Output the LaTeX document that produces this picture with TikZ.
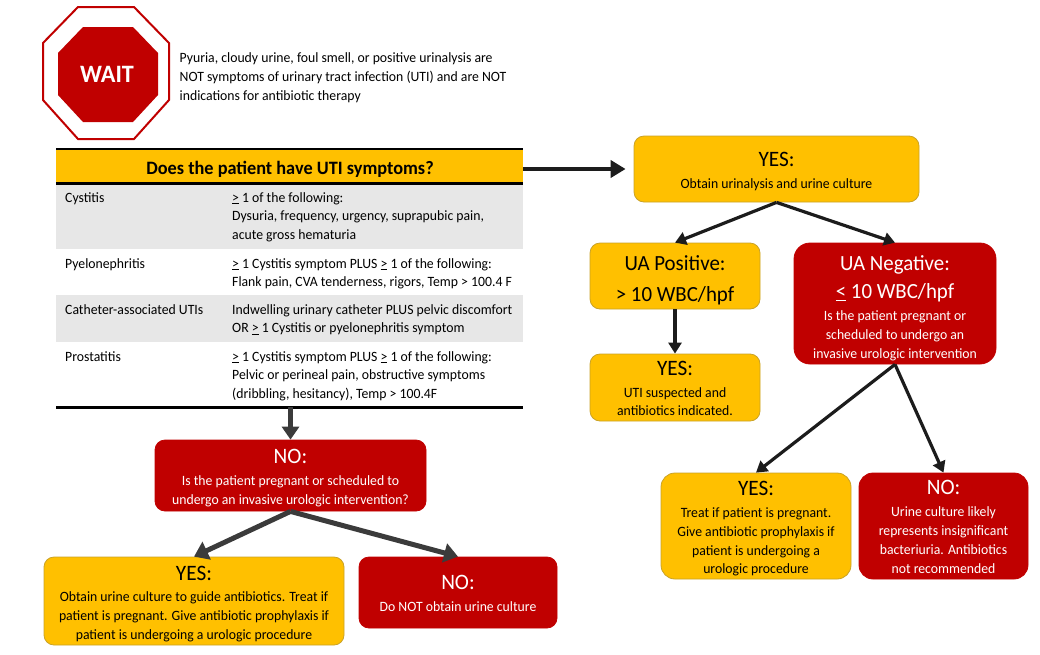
\documentclass[tikz,border=0pt]{standalone}
\usepackage{fontspec}
\setmainfont[FakeStretch=0.967]{Carlito}
\usepackage{xcolor}
\usetikzlibrary{arrows.meta}
\definecolor{signred}{HTML}{C00000}
\definecolor{boxgold}{HTML}{FFC000}
\definecolor{goldedge}{HTML}{C9A227}
\definecolor{rowgray}{HTML}{E7E7E7}
\definecolor{arrowgray}{HTML}{3B3B3B}
\definecolor{arrowdark}{HTML}{1C1C1C}
\newcommand{\Geq}{\underline{>}}
\newcommand{\Leq}{\underline{<}}
\newcommand{\boxtitle}[1]{{\fontsize{22}{24}\selectfont\rule{0pt}{20pt}#1}}
\newcommand{\uatitle}[1]{{\fontsize{21.6}{24}\selectfont\rule{0pt}{24pt}#1}}
\newcommand{\lastdepth}{\rule[-4pt]{0pt}{0pt}}
\tikzset{
  body/.style={font=\fontsize{14.2}{18.8}\selectfont, align=left, inner sep=0pt, text=black},
  flowbox/.style={rounded corners=10pt, align=center, inner sep=0pt, font=\fontsize{14.2}{18.8}\selectfont},
  goldbox/.style={flowbox, draw=goldedge, line width=0.8pt, fill=boxgold, text=black},
  redbox/.style={flowbox, draw=signred, line width=0.8pt, fill=signred, text=white},
  tablerow/.style={inner sep=0pt, minimum width=467pt, anchor=north west},
  tableline/.style={line width=2.6pt, black},
  darkarrow/.style={arrowdark, line width=3.2pt, -{Triangle[length=11pt,width=13pt]}},
  grayarrow/.style={arrowgray, line width=5pt, -{Triangle[length=14pt,width=19pt]}}
}
\begin{document}
\begin{tikzpicture}[x=1pt, y=-1pt]
  \useasboundingbox (0, 0) rectangle (1040, 654);
  % stop sign
  \draw [signred, line width=2pt, fill=white] (78, 7) -- (134, 7) -- (169, 43) -- (169, 100) -- (134, 139) -- (78, 139) -- (43, 100) -- (43, 43) -- cycle;
  \fill [signred] (83, 27) -- (133, 27) -- (158, 53) -- (158, 95) -- (133, 122) -- (83, 122) -- (58, 95) -- (58, 53) -- cycle;
  \node [text=white, font=\bfseries\fontsize{25}{28}\selectfont] (wait) at (107, 74) {WAIT};
  \node [body, anchor=north west] (warning) at (179.5, 52.5) {Pyuria, cloudy urine, foul smell, or positive urinalysis are\\NOT symptoms of urinary tract infection (UTI) and are NOT\\indications for antibiotic therapy};
  % table
  \node [tablerow, fill=boxgold, minimum height=34pt] (head) at (56, 149) {};
  \node [font=\bfseries\fontsize{18.9}{22}\selectfont] (question) at (290, 169) {Does the patient have UTI symptoms?};
  \node [tablerow, fill=rowgray, minimum height=66pt] (rowA) at (56, 183) {};
  \node [tablerow, minimum height=46pt] (rowB) at (56, 249) {};
  \node [tablerow, fill=rowgray, minimum height=47pt] (rowC) at (56, 295) {};
  \node [tablerow, minimum height=65pt] (rowD) at (56, 342) {};
  \draw [tableline] (head.north west) -- (head.north east);
  \draw [tableline] (head.south west) -- (head.south east);
  \draw [tableline] (rowD.south west) -- (rowD.south east);
  \node [body, anchor=north west] (cystitis) at (65, 192) {Cystitis};
  \node [body, anchor=north west] (cystitisText) at (232, 192) {\Geq{} 1 of the following:\\Dysuria, frequency, urgency, suprapubic pain,\\acute gross hematuria};
  \node [body, anchor=north west] (pyelo) at (65, 258) {Pyelonephritis};
  \node [body, anchor=north west] (pyeloText) at (232, 258) {\Geq{} 1 Cystitis symptom PLUS \Geq{} 1 of the following:\\Flank pain, CVA tenderness, rigors, Temp > 100.4 F};
  \node [body, anchor=north west] (cath) at (65, 304) {Catheter-associated UTIs};
  \node [body, anchor=north west] (cathText) at (232, 304) {Indwelling urinary catheter PLUS pelvic discomfort\\OR \Geq{} 1 Cystitis or pyelonephritis symptom};
  \node [body, anchor=north west] (prost) at (65, 351) {Prostatitis};
  \node [body, anchor=north west] (prostText) at (232, 351) {\Geq{} 1 Cystitis symptom PLUS \Geq{} 1 of the following:\\Pelvic or perineal pain, obstructive symptoms\\(dribbling, hesitancy), Temp > 100.4F};
  % left branch
  \node [redbox, minimum width=271pt, minimum height=71pt] (noMid) at (290.5, 475.5) {\boxtitle{NO:}\\[3pt]Is the patient pregnant or scheduled to\\undergo an invasive urologic intervention?};
  \node [goldbox, minimum width=300pt, minimum height=88pt] (yesLeft) at (194, 601) {\boxtitle{YES:}\\[3pt]Obtain urine culture to guide antibiotics. Treat if\\patient is pregnant. Give antibiotic prophylaxis if\\patient is undergoing a urologic procedure};
  \node [redbox, minimum width=198pt, minimum height=71pt] (noLeft) at (458, 592.5) {\boxtitle{NO:}\\[3pt]Do NOT obtain urine culture\lastdepth};
  % right branch
  \node [goldbox, minimum width=285pt, minimum height=66pt] (yesTop) at (776.5, 169) {\boxtitle{YES:}\\[3pt]Obtain urinalysis and urine culture};
  \node [goldbox, minimum width=170pt, minimum height=66pt] (uaPos) at (675, 276) {\uatitle{UA Positive:}\\[6pt]\uatitle{> 10 WBC/hpf}};
  \node [redbox, minimum width=202pt, minimum height=121pt, rounded corners=16pt] (uaNeg) at (895, 303.5) {\uatitle{UA Negative:}\\\uatitle{\Leq{} 10 WBC/hpf}\\[3pt]Is the patient pregnant or\\scheduled to undergo an\\invasive urologic intervention};
  \node [goldbox, minimum width=170pt, minimum height=67pt] (yesSusp) at (675, 387.5) {\boxtitle{YES:}\\[3pt]UTI suspected and\\antibiotics indicated.\lastdepth};
  \node [goldbox, minimum width=190pt, minimum height=106pt, rounded corners=14pt] (yesTreat) at (756, 526) {\boxtitle{YES:}\\[3pt]Treat if patient is pregnant.\\Give antibiotic prophylaxis if\\patient is undergoing a\\urologic procedure};
  \node [redbox, minimum width=169pt, minimum height=106pt, rounded corners=14pt] (noRight) at (943.5, 526) {\boxtitle{NO:}\\[3pt]Urine culture likely\\represents insignificant\\bacteriuria. Antibiotics\\not recommended\lastdepth};
  % arrows
  \draw [arrowdark, line width=4.5pt, -{Triangle[length=15pt,width=17pt]}, shorten >=8pt] (head.east |- yesTop.west) -- (yesTop.west);
  \draw [arrowgray, line width=4.5pt, -{Triangle[length=13pt,width=17pt]}] (rowD.south -| noMid.north) -- (noMid.north);
  \draw [grayarrow] (noMid.south) -- (yesLeft.north);
  \draw [grayarrow] (noMid.south) -- (noLeft.north);
  \draw [darkarrow] (yesTop.south) -- (uaPos.north);
  \draw [darkarrow] (yesTop.south) -- (uaNeg.north);
  \draw [darkarrow] (uaPos.south) -- (yesSusp.north);
  \draw [darkarrow] (uaNeg.south) -- (yesTreat.north);
  \draw [darkarrow] (uaNeg.south) -- (noRight.north);
\end{tikzpicture}
\end{document}
